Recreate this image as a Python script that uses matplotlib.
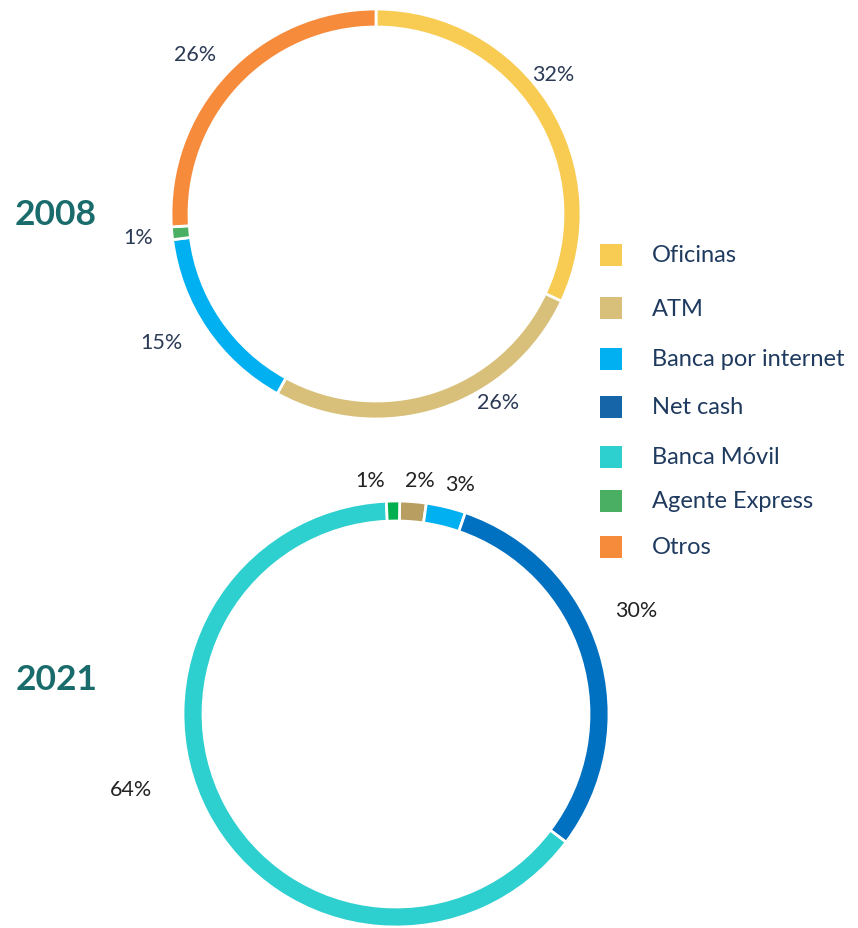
import matplotlib
matplotlib.use("Agg")
import matplotlib.pyplot as plt
from matplotlib.patches import Rectangle

W, H = 858, 929

# Data
legend_labels = ["Oficinas", "ATM", "Banca por internet", "Net cash", "Banca Móvil", "Agente Express", "Otros"]
legend_colors = ["#F8CB52", "#D8BF7A", "#00B0F0", "#1565A8", "#2ECFCF", "#4BAF63", "#F68B3C"]

cats_2008 = ["Oficinas", "ATM", "Banca por internet", "Agente Express", "Otros"]
vals_2008 = [32, 26, 15, 1, 26]
cols_2008 = ["#F8CB52", "#D8BF7A", "#00B0F0", "#4BAF63", "#F68B3C"]
lbl_2008 = ["32%", "26%", "15%", "1%", "26%"]
lblpos_2008 = [(553, 75), (498, 403), (161, 343), (138, 238), (195, 55)]

cats_2021 = ["ATM", "Banca por internet", "Net cash", "Banca Móvil", "Agente Express"]
vals_2021 = [2, 3, 30, 64, 1]
cols_2021 = ["#B89E60", "#00B0F0", "#0070C0", "#2ECFCF", "#00B050"]
lbl_2021 = ["2%", "3%", "30%", "64%", "1%"]
lblpos_2021 = [(420, 481), (460, 485), (636, 611), (131, 790), (370, 481)]

fig = plt.figure(figsize=(W / 100, H / 100), dpi=100)
ax = fig.add_axes([0, 0, 1, 1])

def Y(y):
    return H - y

ax.pie(vals_2008, colors=cols_2008, startangle=90, counterclock=False,
       center=(376, Y(215)), radius=205,
       wedgeprops=dict(width=18, edgecolor="white", linewidth=2))
ax.pie(vals_2021, colors=cols_2021, startangle=89, counterclock=False,
       center=(396, Y(715)), radius=213,
       wedgeprops=dict(width=20, edgecolor="white", linewidth=2))

ax.set_xlim(0, W)
ax.set_ylim(0, H)
ax.set_aspect("equal")
ax.axis("off")

font = "Lato"
for t, (x, y) in zip(lbl_2008, lblpos_2008):
    ax.text(x, Y(y), t, ha="center", va="center", fontsize=15.5, color="#2B3A55",
            family=font)
for t, (x, y) in zip(lbl_2021, lblpos_2021):
    ax.text(x, Y(y), t, ha="center", va="center", fontsize=15.5, color="#222222",
            family=font)

ax.text(56, Y(215), "2008", ha="center", va="center", fontsize=25.5, color="#1A6B6B",
        family=font, fontweight="bold")
ax.text(57, Y(680), "2021", ha="center", va="center", fontsize=25.5, color="#1A6B6B",
        family=font, fontweight="bold")

leg_y = [256, 309, 360, 408, 458, 502, 548]
for lab, col, y in zip(legend_labels, legend_colors, leg_y):
    ax.add_patch(Rectangle((600, Y(y) - 11), 22, 22, facecolor=col, edgecolor="none"))
    ax.text(652, Y(y), lab, ha="left", va="center", fontsize=17, color="#1F3A5F",
            family=font)

fig.savefig("out.png", dpi=100)
